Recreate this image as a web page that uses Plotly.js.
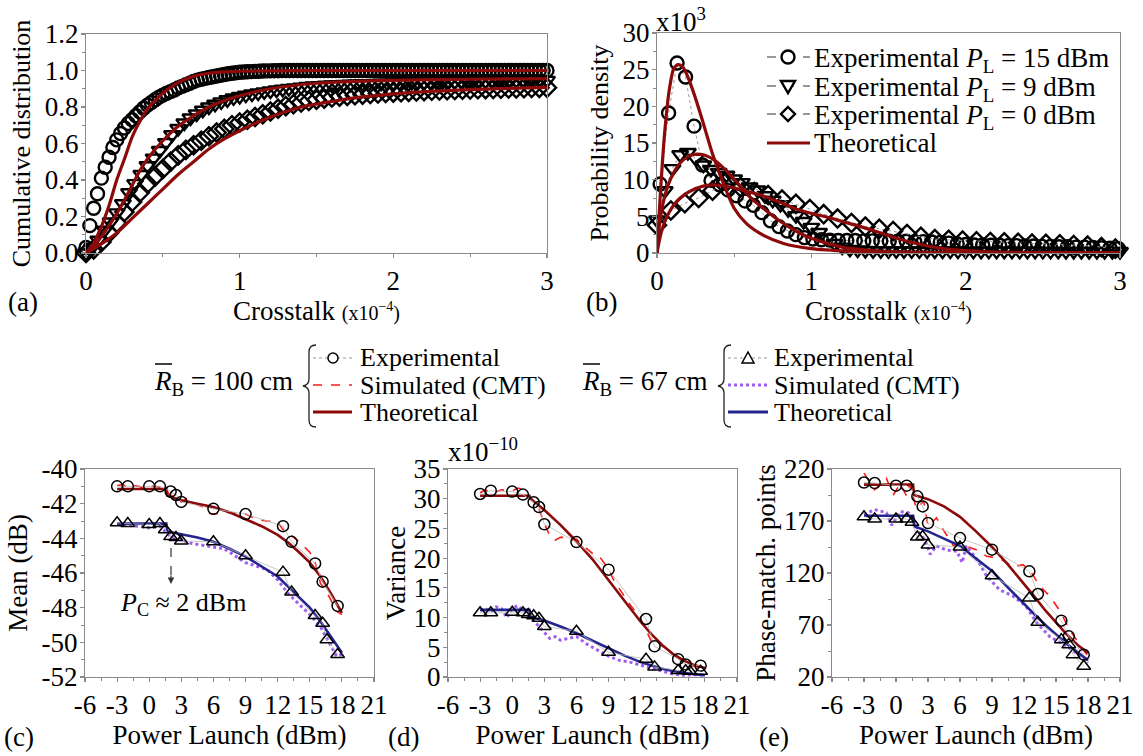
<!DOCTYPE html>
<html><head><meta charset="utf-8">
<script src="https://cdn.plot.ly/plotly-3.0.1.min.js"></script>
<style>body{margin:0;background:#fff}#chart{width:1143px;height:756px}</style>
</head><body><div id="chart"></div>
<script>
// ---------- Panel (a): cumulative distribution ----------
const a_x15 = [0,0.025,0.05,0.075,0.1,0.125,0.15,0.175,0.2,0.225,
0.25,0.275,0.3,0.325,0.35,0.375,0.4,0.425,0.45,0.475,
0.5,0.525,0.55,0.575,0.6,0.625,0.65,0.675,0.7,0.725,
0.75,0.775,0.8,0.825,0.85,0.875,0.9,0.925,0.95,0.975,
1,1.025,1.05,1.075,1.1,1.125,1.15,1.175,1.2,1.225,
1.25,1.275,1.3,1.325,1.35,1.375,1.4,1.425,1.45,1.475,
1.5,1.525,1.55,1.575,1.6,1.625,1.65,1.675,1.7,1.725,
1.75,1.775,1.8,1.825,1.85,1.875,1.9,1.925,1.95,1.975,
2,2.025,2.05,2.075,2.1,2.125,2.15,2.175,2.2,2.225,
2.25,2.275,2.3,2.325,2.35,2.375,2.4,2.425,2.45,2.475,
2.5,2.525,2.55,2.575,2.6,2.625,2.65,2.675,2.7,2.725,
2.75,2.775,2.8,2.825,2.85,2.875,2.9,2.925,2.95,2.975,3];
const a_y15 = [0.03,0.15,0.245,0.325,0.41,0.47,0.525,0.578,0.62,0.655,
0.685,0.71,0.73,0.752,0.773,0.793,0.81,0.825,0.84,0.854,
0.865,0.875,0.884,0.893,0.905,0.913,0.922,0.93,0.94,0.947,
0.952,0.957,0.962,0.966,0.97,0.974,0.978,0.982,0.985,0.988,
0.99,0.992,0.993,0.994,0.995,0.996,0.997,0.998,0.998,0.999,
0.999,1,1,1,1,1,1,1,1,1,
1,1,1,1,1,1,1,1,1,1,
1,1,1,1,1,1,1,1,1,1,
1,1,1,1,1,1,1,1,1,1,
1,1,1,1,1,1,1,1,1,1,
1,1,1,1,1,1,1,1,1,1,
1,1,1,1,1,1,1,1,1,1,1];
const a_x9 = [0,0.04,0.08,0.12,0.16,0.2,0.24,0.28,0.32,0.36,
0.4,0.44,0.48,0.52,0.56,0.6,0.64,0.68,0.72,0.76,
0.8,0.84,0.88,0.92,0.96,1,1.04,1.08,1.12,1.16,
1.2,1.24,1.28,1.32,1.36,1.4,1.44,1.48,1.52,1.56,
1.6,1.64,1.68,1.72,1.76,1.8,1.84,1.88,1.92,1.96,
2,2.04,2.08,2.12,2.16,2.2,2.24,2.28,2.32,2.36,
2.4,2.44,2.48,2.52,2.56,2.6,2.64,2.68,2.72,2.76,
2.8,2.84,2.88,2.92,2.96,3];
const a_y9 = [0,0.03,0.07,0.125,0.17,0.22,0.27,0.33,0.38,0.43,
0.478,0.52,0.562,0.605,0.648,0.682,0.712,0.74,0.762,0.782,
0.8,0.815,0.828,0.84,0.85,0.858,0.865,0.871,0.877,0.883,
0.888,0.893,0.897,0.901,0.905,0.909,0.912,0.915,0.917,0.919,
0.921,0.922,0.924,0.925,0.926,0.927,0.928,0.929,0.93,0.931,
0.932,0.933,0.934,0.934,0.935,0.936,0.936,0.937,0.938,0.938,
0.939,0.939,0.94,0.94,0.941,0.941,0.942,0.942,0.943,0.943,
0.944,0.944,0.945,0.945,0.946,0.946];
const a_x0 = [0,0.05,0.1,0.15,0.2,0.25,0.3,0.35,0.4,0.45,
0.5,0.55,0.6,0.65,0.7,0.75,0.8,0.85,0.9,0.95,
1,1.05,1.1,1.15,1.2,1.25,1.3,1.35,1.4,1.45,
1.5,1.55,1.6,1.65,1.7,1.75,1.8,1.85,1.9,1.95,
2,2.05,2.1,2.15,2.2,2.25,2.3,2.35,2.4,2.45,
2.5,2.55,2.6,2.65,2.7,2.75,2.8,2.85,2.9,2.95,3];
const a_y0 = [0,0.02,0.06,0.11,0.165,0.225,0.28,0.33,0.38,0.42,
0.46,0.5,0.535,0.565,0.59,0.615,0.64,0.66,0.68,0.7,
0.715,0.73,0.745,0.76,0.775,0.79,0.805,0.815,0.825,0.833,
0.84,0.846,0.852,0.857,0.861,0.865,0.868,0.871,0.874,0.877,
0.879,0.881,0.883,0.885,0.887,0.889,0.89,0.892,0.893,0.895,
0.896,0.897,0.898,0.899,0.9,0.901,0.902,0.903,0.904,0.905,0.906];
const a_tx15 = [0,0.05,0.1,0.15,0.2,0.25,0.3,0.35,0.4,0.45,0.5,0.6,0.7,0.8,0.9,1.0,1.2,1.5,2,2.5,3];
const a_ty15 = [0,0.055,0.145,0.26,0.4,0.515,0.635,0.72,0.79,0.835,0.875,0.935,0.968,0.985,0.993,0.996,0.998,1,1,1,1];
const a_tx9 = [0,0.05,0.1,0.15,0.2,0.25,0.3,0.35,0.4,0.5,0.6,0.7,0.8,0.9,1.0,1.2,1.5,2,2.5,3];
const a_ty9 = [0,0.035,0.09,0.15,0.215,0.29,0.37,0.45,0.515,0.615,0.695,0.752,0.8,0.835,0.862,0.9,0.93,0.946,0.952,0.955];
const a_tx0 = [0,0.1,0.2,0.3,0.4,0.5,0.6,0.7,0.8,0.9,1.0,1.2,1.4,1.6,1.8,2.0,2.5,3];
const a_ty0 = [0,0.05,0.11,0.19,0.27,0.35,0.43,0.5,0.57,0.625,0.67,0.745,0.8,0.83,0.855,0.872,0.895,0.907];

// ---------- Panel (b): probability density (x10^3) ----------
const b_x15 = [0.02,0.075,0.13,0.185,0.24,0.295,0.35,0.405,0.46,0.515,
0.57,0.625,0.68,0.735,0.79,0.845,0.9,0.955,1.01,1.065,
1.12,1.175,1.23,1.285,1.34,1.395,1.45,1.505,1.56,1.615,
1.67,1.725,1.78,1.835,1.89,1.945,2,2.055,2.11,2.165,
2.22,2.275,2.33,2.385,2.44,2.495,2.55,2.605,2.66,2.715,
2.77,2.825,2.88,2.935,2.99];
const b_y15 = [9.4,19.1,25.9,24.0,17.3,12.0,9.9,9.3,8.6,7.8,
7.1,6.5,5.5,4.4,3.6,3.0,2.5,2.1,1.9,1.8,
1.75,1.7,1.7,1.7,1.65,1.65,1.65,1.6,1.6,1.6,
1.55,1.55,1.5,1.45,1.35,1.25,1.15,1.1,1.1,1.05,
1.05,1.0,1.0,0.95,0.95,0.9,0.9,0.85,0.85,0.8,
0.8,0.75,0.7,0.65,0.6];
const b_x9 = [0,0.05,0.1,0.15,0.2,0.25,0.3,0.35,0.4,0.45,
0.5,0.55,0.6,0.65,0.7,0.75,0.8,0.85,0.9,0.95,
1,1.05,1.1,1.15,1.2,1.25,1.3,1.35,1.4,1.45,
1.5,1.55,1.6,1.65,1.7,1.75,1.8,1.85,1.9,1.95,
2,2.05,2.1,2.15,2.2,2.25,2.3,2.35,2.4,2.45,
2.5,2.55,2.6,2.65,2.7,2.75,2.8,2.85,2.9,2.95,3];
const b_y9 = [4.5,8.5,11.5,13.4,13.7,12.9,12.0,11.4,11.0,10.6,
10.1,9.6,9.0,8.6,7.8,7.2,6.6,5.9,5.1,4.3,
3.5,2.8,2.0,1.3,0.8,0.5,0.4,0.35,0.3,0.3,
0.3,0.3,0.3,0.29,0.29,0.28,0.28,0.27,0.27,0.26,
0.26,0.25,0.25,0.25,0.24,0.24,0.24,0.23,0.23,0.23,
0.22,0.22,0.22,0.21,0.21,0.21,0.2,0.2,0.2,0.2,0.2];
const b_x0 = [0,0.09,0.18,0.27,0.36,0.45,0.54,0.63,0.72,0.81,
0.9,0.99,1.08,1.17,1.26,1.35,1.44,1.53,1.62,1.71,
1.8,1.89,1.98,2.07,2.16,2.25,2.34,2.43,2.52,2.61,
2.7,2.79,2.88,2.97];
const b_y0 = [3.8,5.8,6.8,7.5,8.5,9.7,9.0,8.3,7.9,7.3,
6.7,6.0,5.3,4.7,4.1,3.6,3.3,3.0,2.6,2.2,
1.9,1.8,1.7,1.6,1.5,1.45,1.4,1.3,1.25,1.2,
1.1,1.0,0.8,0.6];
const b_tx15 = [0,0.02,0.05,0.08,0.11,0.14,0.17,0.2,0.24,0.3,0.36,0.43,0.5,0.58,0.69,0.82,1.0,1.25,1.6,2,2.5,3];
const b_ty15 = [0,7.5,16.5,22.3,25.2,25.7,25.3,24.0,21.7,17.7,13.5,9.5,6.1,4.0,2.4,1.3,0.6,0.25,0.08,0.02,0,0];
const b_tx9 = [0,0.02,0.06,0.12,0.17,0.23,0.3,0.37,0.43,0.52,0.6,0.7,0.8,0.9,1.0,1.2,1.5,2,2.5,3];
const b_ty9 = [0,4.5,8.5,11.4,12.7,13.4,13.4,12.7,11.6,9.6,7.7,5.9,4.3,3.0,2.0,0.8,0.2,0.02,0,0];
const b_tx0 = [0,0.03,0.08,0.15,0.25,0.35,0.45,0.55,0.67,0.8,0.9,1.0,1.1,1.2,1.32,1.49,1.64,1.85,2.1,2.5,3];
const b_ty0 = [0,3.0,5.6,7.5,8.8,9.3,9.1,8.6,7.9,6.9,6.0,5.4,4.9,4.3,3.6,2.45,1.5,0.6,0.2,0.05,0];

// ---------- Panels (c), (d), (e): vs power launch ----------
const xExp100 = [-3,-2,0,1,2,2.5,3,6,9,12.5,13.3,15.5,16.2,17.6];
const c_exp100 = [-41.0,-41.0,-41.0,-41.0,-41.3,-41.5,-41.9,-42.3,-42.6,-43.3,-44.2,-45.45,-46.5,-47.9];
const d_exp100 = [30.8,31.35,31.2,30.7,29.4,28.6,25.7,22.7,18.06,9.76,5.16,3.0,2.1,1.9];
const e_exp100 = [207,206.5,204,204,193.7,184,168,153.6,142.4,121.6,99.8,74.2,59.1,41.5];
const xExp67 = [-3,-2,0,1,1.5,2,2.5,3,6,9,12.5,13.3,15.5,16.2,16.6,17.6];
const c_exp67 = [-43.1,-43.15,-43.2,-43.15,-43.5,-43.9,-43.95,-44.15,-44.2,-45.0,-45.95,-47.1,-48.45,-48.9,-49.85,-50.7];
const d_exp67 = [10.8,10.8,10.9,10.8,10.5,10.3,9.9,8.5,7.7,4.15,3.0,1.7,1.1,1.05,0.95,0.95];
const e_exp67 = [174,172,172,172,168.7,154.6,155,147,145,117.4,96,72.6,55.9,51.1,41.5,30.3];

const thX = [-3,-1,1,1.6,1.7,3,4.5,6,7.5,9,10.5,12,13,14,15,16,17,18];
const c_th100 = [-41.15,-41.15,-41.15,-41.15,-41.55,-41.8,-42.0,-42.2,-42.5,-42.9,-43.3,-43.8,-44.25,-44.8,-45.4,-46.2,-47.2,-48.3];
const c_th67 = [-43.15,-43.15,-43.15,-43.15,-43.6,-43.75,-43.95,-44.2,-44.6,-45.05,-45.6,-46.2,-46.8,-47.4,-48.0,-48.8,-49.7,-50.6];
const d_th100 = [30.5,30.5,30.5,30.5,30.0,28.1,25.6,22.8,19.8,16.4,12.8,9.3,7.2,5.4,3.9,2.8,2.0,1.5];
const d_th67 = [11.3,11.3,11.3,11.3,10.2,9.5,8.5,7.4,6.1,4.8,3.6,2.5,1.9,1.4,1.0,0.7,0.45,0.3];
const e_th100 = [205,205,205,205,195,191,184,174,160,145,128,110,97,84,72,61,51,43];
const e_th67 = [175,175,175,175,165,160,153,146,134,122,106,90,80,70,61,52,44,36];

const c_simx100 = [-3,-2.5,-2,-1.5,-1,-0.5,0,0.5,1,1.5,2,2.5,3,3.5,4,5,5.5,6,7,8,9,10,11,12,12.5,13,14,15,15.5,16,16.5,17,17.5,18];
const c_sim100 = [-40.95,-40.9,-41.05,-40.95,-41.0,-41.1,-41.0,-41.0,-41.05,-41.1,-41.6,-41.5,-41.9,-41.7,-41.9,-42.2,-42.55,-42.6,-42.5,-42.55,-42.6,-42.9,-43.0,-43.05,-43.5,-43.7,-44.2,-44.8,-45.4,-46.6,-47.0,-47.6,-48.2,-48.4];
const c_simx67 = [-3,-2,-1,0,1,2,2.5,3,4,5,6,7,8,9,10,11,12,13,14,15,16,17,17.5,18];
const c_sim67 = [-43.2,-43.25,-43.3,-43.4,-43.3,-43.9,-44.0,-44.1,-44.3,-44.4,-44.5,-44.6,-45.0,-45.4,-45.6,-45.8,-46.4,-47.2,-47.8,-48.4,-49.1,-50.2,-50.8,-50.7];
const d_simx100 = [-3,-2.5,-2,-1,0,0.5,1,1.5,2,2.5,3,3.5,4,4.5,5,5.5,6,6.5,7,7.5,8,9,9.5,10,11,12,12.5,13,13.5,14,15,16,17,18];
const d_sim100 = [31.0,31.5,30.8,31.5,31.3,31.8,31.6,30.5,29.6,28.3,25.8,23.8,23.0,23.5,23.5,23.0,23.2,22.3,21.5,20.8,20.6,18.2,16.2,14.8,12.2,9.8,8.0,6.0,5.8,5.2,4.2,2.4,1.8,1.3];
const d_simx67 = [-3,-2.5,-2,-1.5,-1,-0.5,0,0.5,1,1.5,2,2.5,3,3.5,4,4.5,5,6,7,8,9,10,11,12,13,14,15,16,17,18];
const d_sim67 = [11.2,11.5,11.0,11.8,11.5,10.0,11.5,12.0,11.2,10.8,9.5,8.5,7.5,6.5,6.8,6.2,6.4,6.8,5.5,4.5,3.5,2.8,2.5,2.0,1.5,1.0,0.5,0.3,0.4,0.3];
const e_simx100 = [-3,-2,-0.9,-0.25,0.4,1.0,1.3,1.9,2.6,3.0,3.8,4.4,5.4,6.3,7.6,8.5,9.7,11.0,11.9,12.6,13.5,14.4,15.4,16.3,17.3,18];
const e_sim100 = [216,200,211,195,206,194,206,182,189,165,173,162,146,147,142,136,134,126,128,122,107,98,83,65,50,40];
const e_simx67 = [-3,-2,-0.9,-0.4,0.4,1.15,1.6,2.1,2.7,3.2,3.8,4.75,5.7,6.2,6.6,7.6,8.5,9.1,9.7,11.0,12.2,13.2,14.4,16.0,17.3,18];
const e_sim67 = [176,181,178,166,179,178,174,160,152,138,146,142,141,130,146,133,117,110,104,97.6,88,72,59,49.5,40,33.5];

// tick labels
const bxTicks = [-6,-3,0,3,6,9,12,15,18,21];
const bxText = ['-6','-3','0','3','6','9','12','15','18','21'];
const cyTicks = [-52,-50,-48,-46,-44,-42,-40];
const cyText = ['-52','-50','-48','-46','-44','-42','-40'];
const eyTicks = [20,70,120,170,220];

// ---------- styling ----------
const W = 1143, H = 756;
const FONT = 'Liberation Serif';
const DR = '#8c0a0a', NAVY = '#25258f', RED = '#ff1a1a', PUR = '#a05cf0';
const px = v => v / W, py = v => 1 - v / H;

function ax(o, isY) {
  return Object.assign({
    showline: true, mirror: true, linecolor: '#8a8a8a', linewidth: 1.2,
    ticks: 'outside', ticklen: 4, tickwidth: 1.2, tickcolor: '#8a8a8a',
    ticklabelstandoff: isY ? -3 : -1,
    showgrid: false, zeroline: false,
    tickfont: {family: FONT, size: 27, color: '#000'}
  }, o);
}
function ttl(text, standoff, size) {
  return {text: text, standoff: standoff, font: {family: FONT, size: size || 26, color: '#000'}};
}
function minor(dt, t0) { return {ticks: 'outside', ticklen: 3, tickwidth: 1, tickcolor: '#8a8a8a', dtick: dt, tick0: t0}; }

const mkTop = (sym, size) => ({symbol: sym, size: size, color: '#000', line: {width: 2.4, color: '#000'}});
const mkBot = (sym, size) => ({symbol: sym, size: size, color: '#000', line: {width: 1.5, color: '#000'}});
const expLine = {color: '#9a9a9a', width: 1, dash: 'dot'};

const traces = [
  {x: a_x15, y: a_y15, xaxis: 'x', yaxis: 'y', mode: 'markers', marker: mkTop('circle-open', 13), cliponaxis: false},
  {x: a_x9, y: a_y9, xaxis: 'x', yaxis: 'y', mode: 'markers', marker: mkTop('triangle-down-open', 14), cliponaxis: false},
  {x: a_x0, y: a_y0, xaxis: 'x', yaxis: 'y', mode: 'markers', marker: mkTop('diamond-open', 14), cliponaxis: false},
  {x: a_tx15, y: a_ty15, xaxis: 'x', yaxis: 'y', mode: 'lines', line: {color: DR, width: 3.2, shape: 'spline', smoothing: 0.8}},
  {x: a_tx9, y: a_ty9, xaxis: 'x', yaxis: 'y', mode: 'lines', line: {color: DR, width: 3.2, shape: 'spline', smoothing: 0.8}},
  {x: a_tx0, y: a_ty0, xaxis: 'x', yaxis: 'y', mode: 'lines', line: {color: DR, width: 3.2, shape: 'spline', smoothing: 0.8}},
  {x: b_x15, y: b_y15, xaxis: 'x2', yaxis: 'y2', mode: 'lines+markers', line: expLine, marker: mkTop('circle-open', 13), cliponaxis: false},
  {x: b_x9, y: b_y9, xaxis: 'x2', yaxis: 'y2', mode: 'lines+markers', line: expLine, marker: mkTop('triangle-down-open', 14), cliponaxis: false},
  {x: b_x0, y: b_y0, xaxis: 'x2', yaxis: 'y2', mode: 'lines+markers', line: expLine, marker: mkTop('diamond-open', 14), cliponaxis: false},
  {x: b_tx15, y: b_ty15, xaxis: 'x2', yaxis: 'y2', mode: 'lines', line: {color: DR, width: 3.2, shape: 'spline', smoothing: 0.8}},
  {x: b_tx9, y: b_ty9, xaxis: 'x2', yaxis: 'y2', mode: 'lines', line: {color: DR, width: 3.2, shape: 'spline', smoothing: 0.8}},
  {x: b_tx0, y: b_ty0, xaxis: 'x2', yaxis: 'y2', mode: 'lines', line: {color: DR, width: 3.2, shape: 'spline', smoothing: 0.8}}
];
const bottom = [
  ['x3', 'y3', c_simx100, c_sim100, c_simx67, c_sim67, c_th100, c_th67, c_exp100, c_exp67],
  ['x4', 'y4', d_simx100, d_sim100, d_simx67, d_sim67, d_th100, d_th67, d_exp100, d_exp67],
  ['x5', 'y5', e_simx100, e_sim100, e_simx67, e_sim67, e_th100, e_th67, e_exp100, e_exp67]
];
bottom.forEach(b => {
  const [xa, ya, sx1, sy1, sx2, sy2, t1, t2, e1, e2] = b;
  traces.push({x: sx1, y: sy1, xaxis: xa, yaxis: ya, mode: 'lines', line: {color: RED, width: 1.6, dash: 'dash'}});
  traces.push({x: sx2, y: sy2, xaxis: xa, yaxis: ya, mode: 'lines', line: {color: PUR, width: 3, dash: 'dot'}});
  traces.push({x: thX, y: t1, xaxis: xa, yaxis: ya, mode: 'lines', line: {color: DR, width: 2.6}});
  traces.push({x: thX, y: t2, xaxis: xa, yaxis: ya, mode: 'lines', line: {color: NAVY, width: 2.6}});
  traces.push({x: xExp100, y: e1, xaxis: xa, yaxis: ya, mode: 'lines+markers', line: {color: '#b8b8b8', width: 0.8}, marker: mkBot('circle-open', 11), cliponaxis: false});
  traces.push({x: xExp67, y: e2, xaxis: xa, yaxis: ya, mode: 'lines+markers', line: {color: '#b8b8b8', width: 0.8}, marker: mkBot('triangle-up-open', 12), cliponaxis: false});
});

// ---------- annotations & decoration ----------
function ann(text, x, y, xa, ya, size) {
  return {text: text, xref: 'paper', yref: 'paper', x: px(x), y: py(y), xanchor: xa || 'left', yanchor: ya || 'middle',
    showarrow: false, font: {family: FONT, size: size || 27, color: '#000'}};
}
function pth(segs) {
  return segs.map(s => {
    const pts = [];
    for (let i = 1; i < s.length; i += 2) pts.push(px(s[i]).toFixed(5) + ',' + py(s[i + 1]).toFixed(5));
    return s[0] + pts.join(' ');
  }).join(' ');
}
function ln(x0, y0, x1, y1, color, width, dash) {
  return {type: 'line', xref: 'paper', yref: 'paper', x0: px(x0), y0: py(y0), x1: px(x1), y1: py(y1),
    line: {color: color, width: width, dash: dash || 'solid'}};
}
function circ(cx, cy, r, w) {
  return {type: 'circle', xref: 'paper', yref: 'paper', x0: px(cx - r), x1: px(cx + r), y0: py(cy + r), y1: py(cy - r),
    fillcolor: '#fff', line: {color: '#000', width: w}};
}
function poly(segs, w) {
  return {type: 'path', xref: 'paper', yref: 'paper', path: pth(segs), fillcolor: '#fff', line: {color: '#000', width: w}};
}
function brace(xr, xm, xt) {
  return {type: 'path', xref: 'paper', yref: 'paper', line: {color: '#222', width: 1.3},
    path: pth([['M', xr, 345], ['Q', xm, 345, xm, 352], ['L', xm, 379], ['Q', xm, 385, xt, 386], ['Q', xm, 387, xm, 393],
      ['L', xm, 420], ['Q', xm, 427, xr, 427]])};
}

const annotations = [
  ann('x10<sup>3</sup>', 654, 20),
  ann('x10<sup>−10</sup>', 446, 450),
  ann('(a)', 6, 302), ann('(b)', 584, 302),
  ann('(c)', 2, 737), ann('(d)', 386, 737), ann('(e)', 757, 737),
  ann('<i>P</i><sub>C</sub> ≈ 2 dBm', 183, 604, 'center', 'middle', 26),
  ann('Experimental <i>P</i><sub>L</sub> = 15 dBm', 812, 60),
  ann('Experimental <i>P</i><sub>L</sub> = 9 dBm', 812, 89),
  ann('Experimental <i>P</i><sub>L</sub> = 0 dBm', 812, 117),
  ann('Theoretical', 812, 143),
  ann('<i>R</i><sub>B</sub> = 100 cm', 152, 383),
  ann('<i>R</i><sub>B</sub> = 67 cm', 580, 383),
  ann('Experimental', 358, 357, 'left', 'middle', 26), ann('Simulated (CMT)', 358, 385, 'left', 'middle', 26), ann('Theoretical', 358, 412, 'left', 'middle', 26),
  ann('Experimental', 772, 357, 'left', 'middle', 26), ann('Simulated (CMT)', 772, 385, 'left', 'middle', 26), ann('Theoretical', 772, 412, 'left', 'middle', 26),
  {text: '', xref: 'paper', yref: 'paper', x: px(171), y: py(584), ax: 0, ay: -10, showarrow: true,
    arrowhead: 2, arrowsize: 1.1, arrowwidth: 1.2, arrowcolor: '#333'}
];

const shapes = [
  ln(767, 57, 810, 57, '#333', 1.2, 'dash'), circ(788, 57, 6.5, 2.4),
  ln(767, 86, 810, 86, '#333', 1.2, 'dash'), poly([['M', 781, 81], ['L', 795, 81], ['L', 788, 93], ['Z']], 2.4),
  ln(767, 114, 810, 114, '#333', 1.2, 'dash'), poly([['M', 788, 107], ['L', 795, 114], ['L', 788, 121], ['L', 781, 114], ['Z']], 2.4),
  ln(767, 143, 810, 143, DR, 3.2),
  brace(316, 309, 303),
  ln(313, 358, 352, 358, '#999', 1, 'dot'), circ(333, 358, 5, 1.5),
  ln(313, 385, 352, 385, RED, 1.6, 'dash'),
  ln(313, 412, 352, 412, DR, 3),
  ln(155, 364, 172, 364, '#000', 1.5),
  brace(731, 724, 718),
  ln(728, 358, 768, 358, '#999', 1, 'dot'), poly([['M', 742, 363], ['L', 754, 363], ['L', 748, 352], ['Z']], 1.5),
  ln(728, 385, 768, 385, PUR, 3, 'dot'),
  ln(728, 412, 768, 412, NAVY, 3),
  ln(583, 364, 600, 364, '#000', 1.5),
  ln(171, 548, 171, 576, '#333', 1.2, 'dash')
];

const xTitleTop = 'Crosstalk <span style="font-size:20px">(x10<sup>−4</sup>)</span>';
const layout = {
  width: W, height: H, margin: {l: 0, r: 0, t: 0, b: 0},
  paper_bgcolor: '#fff', plot_bgcolor: '#fff', showlegend: false,
  font: {family: FONT, size: 26, color: '#000'},
  xaxis: ax({domain: [px(86), px(547)], anchor: 'y', range: [0, 3], tickvals: [0, 1, 2, 3], minor: minor(0.5, 0), title: ttl(xTitleTop, 0, 27)}),
  yaxis: ax({domain: [py(253), py(34)], anchor: 'x', range: [0, 1.2], dtick: 0.2, tick0: 0, tickformat: '.1f', minor: minor(0.1, 0), title: ttl('Cumulative distribution', 6)}, true),
  xaxis2: ax({domain: [px(657), px(1120)], anchor: 'y2', range: [0, 3], tickvals: [0, 1, 2, 3], minor: minor(0.5, 0), title: ttl(xTitleTop, 0, 27)}),
  yaxis2: ax({domain: [py(253), py(33)], anchor: 'x2', range: [0, 30], dtick: 5, tick0: 0, minor: minor(2.5, 0), title: ttl('Probability density', 6)}, true),
  xaxis3: ax({domain: [px(85), px(374)], anchor: 'y3', range: [-6, 21], tickvals: bxTicks, ticktext: bxText, minor: minor(1.5, -6), title: ttl('Power Launch (dBm)', 4, 27)}),
  yaxis3: ax({domain: [py(677), py(469)], anchor: 'x3', range: [-52, -40], tickvals: cyTicks, ticktext: cyText, minor: minor(1, -52), title: ttl('Mean (dB)', 6, 27)}, true),
  xaxis4: ax({domain: [px(448), px(737)], anchor: 'y4', range: [-6, 21], tickvals: bxTicks, ticktext: bxText, minor: minor(1.5, -6), title: ttl('Power Launch (dBm)', 4, 27)}),
  yaxis4: ax({domain: [py(677), py(469)], anchor: 'x4', range: [0, 35], dtick: 5, tick0: 0, minor: minor(2.5, 0), title: ttl('Variance', 0, 27)}, true),
  xaxis5: ax({domain: [px(832), px(1120)], anchor: 'y5', range: [-6, 21], tickvals: bxTicks, ticktext: bxText, minor: minor(1.5, -6), title: ttl('Power Launch (dBm)', 4, 27)}),
  yaxis5: ax({domain: [py(677), py(469)], anchor: 'x5', range: [20, 220], tickvals: eyTicks, minor: minor(25, 20), title: ttl('Phase-match. points', 0, 27)}, true),
  annotations: annotations,
  shapes: shapes
};

Plotly.newPlot('chart', traces, layout, {displayModeBar: false, staticPlot: true});
</script></body></html>
